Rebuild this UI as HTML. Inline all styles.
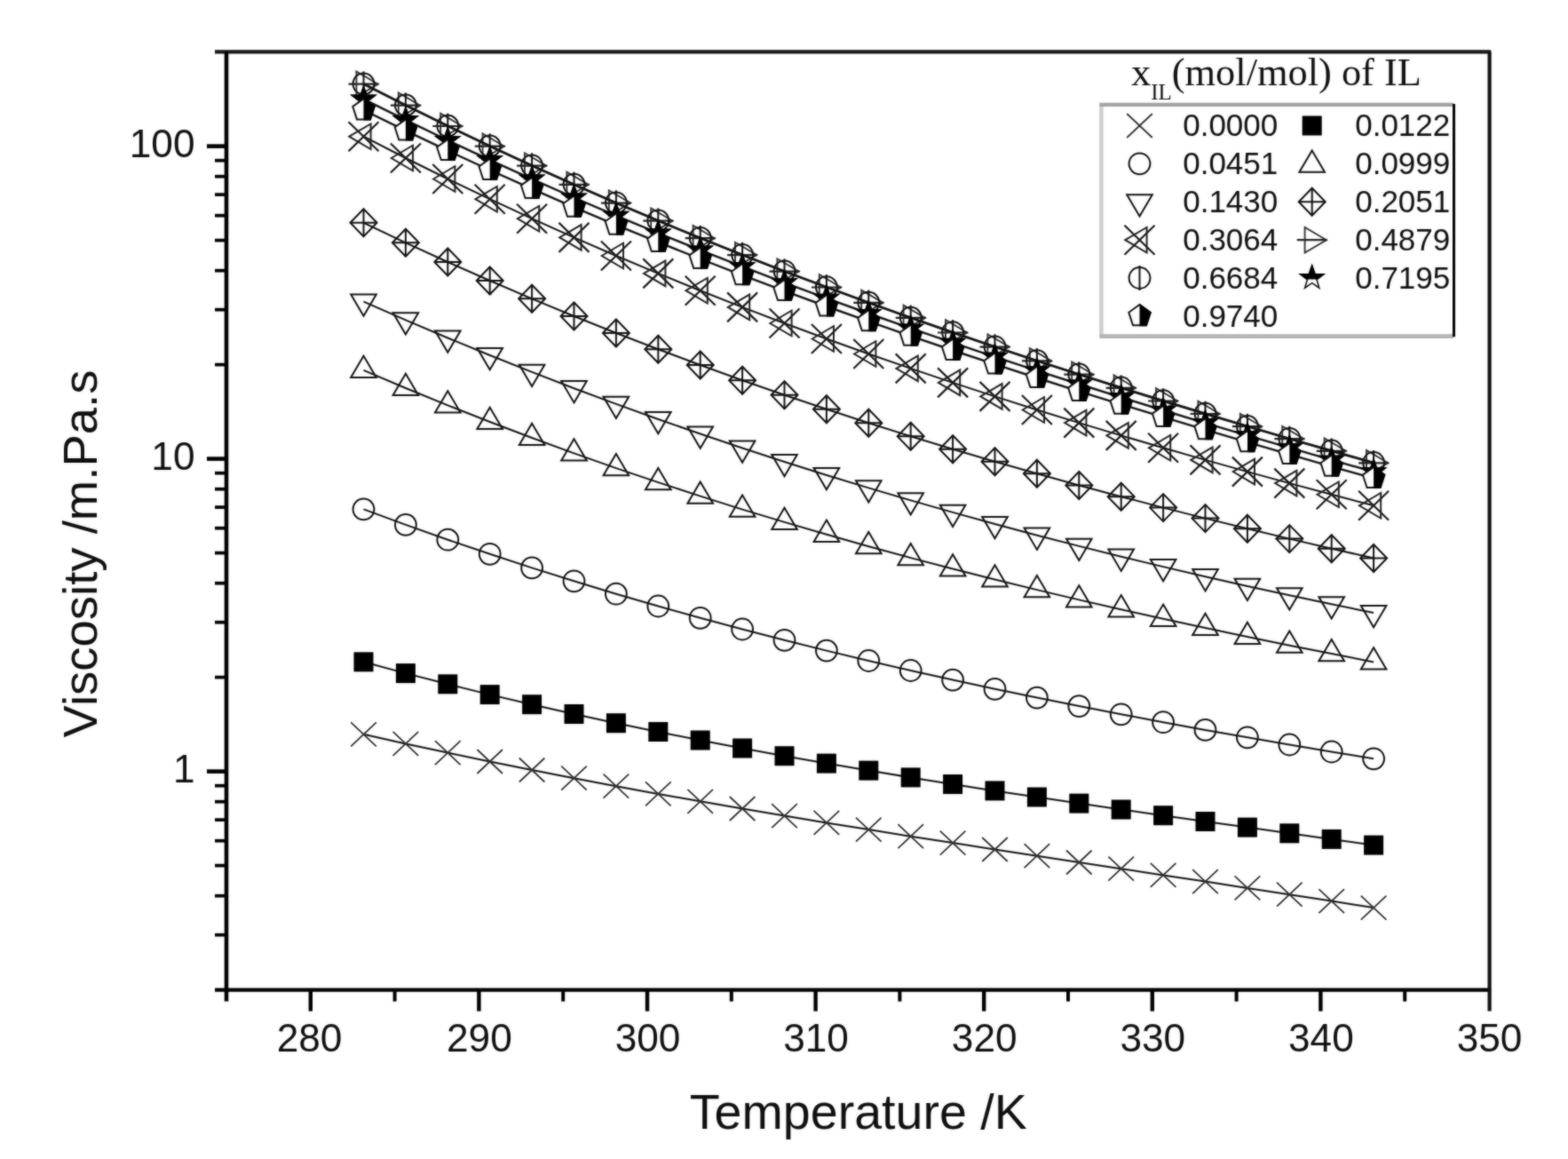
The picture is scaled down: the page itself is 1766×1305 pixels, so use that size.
<!DOCTYPE html>
<html><head><meta charset="utf-8"><title>Viscosity vs Temperature</title>
<style>
html,body{margin:0;padding:0;background:#fff;}
body{width:1766px;height:1305px;overflow:hidden;}
svg{display:block;}
text{font-family:"Liberation Sans",sans-serif;fill:#0e0e0e;}
text.ser{font-family:"Liberation Serif",serif;}
</style></head>
<body>
<svg width="1766" height="1305" viewBox="0 0 1766 1305">
<defs>
<g id="m-x"><path d="M-14.3 -13.5L14.3 13.5M-14.3 13.5L14.3 -13.5" stroke="#303030" stroke-width="1.8" fill="none"/></g>
<g id="m-sq"><rect x="-11" y="-11" width="22" height="22" fill="#000"/></g>
<g id="m-circ"><circle r="11.9" fill="none" stroke="#111" stroke-width="2.0"/></g>
<g id="m-up"><polygon points="0,-16.2 14.3,8.1 -14.3,8.1" fill="none" stroke="#111" stroke-width="2.0"/></g>
<g id="m-down"><polygon points="0,16.2 14.3,-8.1 -14.3,-8.1" fill="none" stroke="#111" stroke-width="2.0"/></g>
<g id="m-dia"><polygon points="0,-15.5 15,0 0,15.5 -15,0" fill="none" stroke="#111" stroke-width="2.0"/><path d="M-15 0H15M0 -15.5V15.5" stroke="#111" stroke-width="2.0" fill="none"/></g>
<g id="m-xtri"><polygon points="-16.2,0 8.1,-14.3 8.1,14.3" fill="none" stroke="#222" stroke-width="2"/><path d="M-17 -16.5L17 16.5M-17 16.5L17 -16.5" stroke="#1a1a1a" stroke-width="2.2" fill="none"/></g>
<g id="m-rt"><polygon points="16.2,0 -8.1,-14.3 -8.1,14.3" fill="none" stroke="#333" stroke-width="1.9"/><path d="M-17 0H17" stroke="#222" stroke-width="2.2" fill="none"/></g>
<g id="m-cv"><circle r="11.9" fill="none" stroke="#111" stroke-width="2.0"/><path d="M0 -14V14" stroke="#111" stroke-width="2.0" fill="none"/></g>
<clipPath id="cu"><rect x="-20" y="-20" width="40" height="21.5"/></clipPath>
<g id="m-star"><polygon points="0,-13.8 3.3,-4.5 13.1,-4.3 5.3,1.7 8.1,11.2 0,5.6 -8.1,11.2 -5.3,1.7 -13.1,-4.3 -3.3,-4.5" fill="#fff" stroke="#111" stroke-width="1.6"/><polygon points="0,-13.8 3.3,-4.5 13.1,-4.3 5.3,1.7 8.1,11.2 0,5.6 -8.1,11.2 -5.3,1.7 -13.1,-4.3 -3.3,-4.5" fill="#000" stroke="#000" stroke-width="1.6" clip-path="url(#cu)"/></g>
<clipPath id="cr"><rect x="0" y="-20" width="20" height="40"/></clipPath>
<g id="m-pent"><polygon points="0,-12.8 12.2,-4 7.5,10.4 -7.5,10.4 -12.2,-4" fill="#fff" stroke="#111" stroke-width="2.0"/><polygon points="0,-12.8 12.2,-4 7.5,10.4 -7.5,10.4 -12.2,-4" fill="#000" stroke="#000" stroke-width="2.0" clip-path="url(#cr)"/></g>
<filter id="soft" x="0" y="0" width="1766" height="1305" filterUnits="userSpaceOnUse" color-interpolation-filters="sRGB"><feGaussianBlur in="SourceGraphic" stdDeviation="1.0" result="b"/><feComposite in="SourceGraphic" in2="b" operator="arithmetic" k1="0" k2="0.45" k3="0.55" k4="0"/></filter>
</defs>
<g filter="url(#soft)">
<rect width="1766" height="1305" fill="#fff"/>
<g id="series">
<path d="M409.5 826.8L456.9 837.4L504.3 847.6L551.7 857.5L599.1 867L646.5 876.2L693.9 885.2L741.3 893.9L788.7 902.3L836.1 910.5L883.5 918.6L930.9 926.4L978.3 934.1L1025.7 941.7L1073.1 949.1L1120.5 956.5L1167.9 963.7L1215.3 971L1262.7 978.2L1310.1 985.4L1357.5 992.6L1404.9 999.9L1452.3 1007.2L1499.7 1014.6L1547.1 1022.1" fill="none" stroke="#111" stroke-width="2.0"/>
<use href="#m-x" x="409.5" y="826.8"/><use href="#m-x" x="456.9" y="837.4"/><use href="#m-x" x="504.3" y="847.6"/><use href="#m-x" x="551.7" y="857.5"/><use href="#m-x" x="599.1" y="867"/><use href="#m-x" x="646.5" y="876.2"/><use href="#m-x" x="693.9" y="885.2"/><use href="#m-x" x="741.3" y="893.9"/><use href="#m-x" x="788.7" y="902.3"/><use href="#m-x" x="836.1" y="910.5"/><use href="#m-x" x="883.5" y="918.6"/><use href="#m-x" x="930.9" y="926.4"/><use href="#m-x" x="978.3" y="934.1"/><use href="#m-x" x="1025.7" y="941.7"/><use href="#m-x" x="1073.1" y="949.1"/><use href="#m-x" x="1120.5" y="956.5"/><use href="#m-x" x="1167.9" y="963.7"/><use href="#m-x" x="1215.3" y="971"/><use href="#m-x" x="1262.7" y="978.2"/><use href="#m-x" x="1310.1" y="985.4"/><use href="#m-x" x="1357.5" y="992.6"/><use href="#m-x" x="1404.9" y="999.9"/><use href="#m-x" x="1452.3" y="1007.2"/><use href="#m-x" x="1499.7" y="1014.6"/><use href="#m-x" x="1547.1" y="1022.1"/>
<path d="M409.5 745.3L456.9 758.1L504.3 770.3L551.7 782.1L599.1 793.2L646.5 804L693.9 814.2L741.3 824L788.7 833.5L836.1 842.5L883.5 851.2L930.9 859.6L978.3 867.6L1025.7 875.4L1073.1 883L1120.5 890.4L1167.9 897.5L1215.3 904.6L1262.7 911.5L1310.1 918.2L1357.5 925L1404.9 931.6L1452.3 938.3L1499.7 944.9L1547.1 951.6" fill="none" stroke="#111" stroke-width="2.0"/>
<use href="#m-sq" x="409.5" y="745.3"/><use href="#m-sq" x="456.9" y="758.1"/><use href="#m-sq" x="504.3" y="770.3"/><use href="#m-sq" x="551.7" y="782.1"/><use href="#m-sq" x="599.1" y="793.2"/><use href="#m-sq" x="646.5" y="804"/><use href="#m-sq" x="693.9" y="814.2"/><use href="#m-sq" x="741.3" y="824"/><use href="#m-sq" x="788.7" y="833.5"/><use href="#m-sq" x="836.1" y="842.5"/><use href="#m-sq" x="883.5" y="851.2"/><use href="#m-sq" x="930.9" y="859.6"/><use href="#m-sq" x="978.3" y="867.6"/><use href="#m-sq" x="1025.7" y="875.4"/><use href="#m-sq" x="1073.1" y="883"/><use href="#m-sq" x="1120.5" y="890.4"/><use href="#m-sq" x="1167.9" y="897.5"/><use href="#m-sq" x="1215.3" y="904.6"/><use href="#m-sq" x="1262.7" y="911.5"/><use href="#m-sq" x="1310.1" y="918.2"/><use href="#m-sq" x="1357.5" y="925"/><use href="#m-sq" x="1404.9" y="931.6"/><use href="#m-sq" x="1452.3" y="938.3"/><use href="#m-sq" x="1499.7" y="944.9"/><use href="#m-sq" x="1547.1" y="951.6"/>
<path d="M409.5 573.4L456.9 590.9L504.3 607.7L551.7 623.8L599.1 639.4L646.5 654.3L693.9 668.7L741.3 682.5L788.7 695.8L836.1 708.5L883.5 720.8L930.9 732.6L978.3 744L1025.7 755L1073.1 765.6L1120.5 775.8L1167.9 785.6L1215.3 795.1L1262.7 804.3L1310.1 813.2L1357.5 821.9L1404.9 830.3L1452.3 838.5L1499.7 846.5L1547.1 854.3" fill="none" stroke="#111" stroke-width="2.0"/>
<use href="#m-circ" x="409.5" y="573.4"/><use href="#m-circ" x="456.9" y="590.9"/><use href="#m-circ" x="504.3" y="607.7"/><use href="#m-circ" x="551.7" y="623.8"/><use href="#m-circ" x="599.1" y="639.4"/><use href="#m-circ" x="646.5" y="654.3"/><use href="#m-circ" x="693.9" y="668.7"/><use href="#m-circ" x="741.3" y="682.5"/><use href="#m-circ" x="788.7" y="695.8"/><use href="#m-circ" x="836.1" y="708.5"/><use href="#m-circ" x="883.5" y="720.8"/><use href="#m-circ" x="930.9" y="732.6"/><use href="#m-circ" x="978.3" y="744"/><use href="#m-circ" x="1025.7" y="755"/><use href="#m-circ" x="1073.1" y="765.6"/><use href="#m-circ" x="1120.5" y="775.8"/><use href="#m-circ" x="1167.9" y="785.6"/><use href="#m-circ" x="1215.3" y="795.1"/><use href="#m-circ" x="1262.7" y="804.3"/><use href="#m-circ" x="1310.1" y="813.2"/><use href="#m-circ" x="1357.5" y="821.9"/><use href="#m-circ" x="1404.9" y="830.3"/><use href="#m-circ" x="1452.3" y="838.5"/><use href="#m-circ" x="1499.7" y="846.5"/><use href="#m-circ" x="1547.1" y="854.3"/>
<path d="M409.5 416.9L456.9 437L504.3 456.4L551.7 475L599.1 493L646.5 510.4L693.9 527.1L741.3 543.1L788.7 558.6L836.1 573.6L883.5 587.9L930.9 601.8L978.3 615.2L1025.7 628.1L1073.1 640.5L1120.5 652.5L1167.9 664.1L1215.3 675.4L1262.7 686.3L1310.1 696.8L1357.5 707L1404.9 717L1452.3 726.7L1499.7 736.1L1547.1 745.4" fill="none" stroke="#111" stroke-width="2.0"/>
<use href="#m-up" x="409.5" y="416.9"/><use href="#m-up" x="456.9" y="437"/><use href="#m-up" x="504.3" y="456.4"/><use href="#m-up" x="551.7" y="475"/><use href="#m-up" x="599.1" y="493"/><use href="#m-up" x="646.5" y="510.4"/><use href="#m-up" x="693.9" y="527.1"/><use href="#m-up" x="741.3" y="543.1"/><use href="#m-up" x="788.7" y="558.6"/><use href="#m-up" x="836.1" y="573.6"/><use href="#m-up" x="883.5" y="587.9"/><use href="#m-up" x="930.9" y="601.8"/><use href="#m-up" x="978.3" y="615.2"/><use href="#m-up" x="1025.7" y="628.1"/><use href="#m-up" x="1073.1" y="640.5"/><use href="#m-up" x="1120.5" y="652.5"/><use href="#m-up" x="1167.9" y="664.1"/><use href="#m-up" x="1215.3" y="675.4"/><use href="#m-up" x="1262.7" y="686.3"/><use href="#m-up" x="1310.1" y="696.8"/><use href="#m-up" x="1357.5" y="707"/><use href="#m-up" x="1404.9" y="717"/><use href="#m-up" x="1452.3" y="726.7"/><use href="#m-up" x="1499.7" y="736.1"/><use href="#m-up" x="1547.1" y="745.4"/>
<path d="M409.5 339.6L456.9 360.4L504.3 380.5L551.7 400L599.1 418.9L646.5 437.2L693.9 454.9L741.3 472L788.7 488.5L836.1 504.5L883.5 520L930.9 535L978.3 549.4L1025.7 563.4L1073.1 576.9L1120.5 590L1167.9 602.7L1215.3 614.9L1262.7 626.7L1310.1 638.1L1357.5 649.2L1404.9 659.9L1452.3 670.3L1499.7 680.3L1547.1 690" fill="none" stroke="#111" stroke-width="2.0"/>
<use href="#m-down" x="409.5" y="339.6"/><use href="#m-down" x="456.9" y="360.4"/><use href="#m-down" x="504.3" y="380.5"/><use href="#m-down" x="551.7" y="400"/><use href="#m-down" x="599.1" y="418.9"/><use href="#m-down" x="646.5" y="437.2"/><use href="#m-down" x="693.9" y="454.9"/><use href="#m-down" x="741.3" y="472"/><use href="#m-down" x="788.7" y="488.5"/><use href="#m-down" x="836.1" y="504.5"/><use href="#m-down" x="883.5" y="520"/><use href="#m-down" x="930.9" y="535"/><use href="#m-down" x="978.3" y="549.4"/><use href="#m-down" x="1025.7" y="563.4"/><use href="#m-down" x="1073.1" y="576.9"/><use href="#m-down" x="1120.5" y="590"/><use href="#m-down" x="1167.9" y="602.7"/><use href="#m-down" x="1215.3" y="614.9"/><use href="#m-down" x="1262.7" y="626.7"/><use href="#m-down" x="1310.1" y="638.1"/><use href="#m-down" x="1357.5" y="649.2"/><use href="#m-down" x="1404.9" y="659.9"/><use href="#m-down" x="1452.3" y="670.3"/><use href="#m-down" x="1499.7" y="680.3"/><use href="#m-down" x="1547.1" y="690"/>
<path d="M409.5 250.8L456.9 273.3L504.3 295L551.7 316L599.1 336.3L646.5 356L693.9 375L741.3 393.3L788.7 411L836.1 428.2L883.5 444.7L930.9 460.8L978.3 476.2L1025.7 491.2L1073.1 505.7L1120.5 519.7L1167.9 533.3L1215.3 546.5L1262.7 559.2L1310.1 571.6L1357.5 583.6L1404.9 595.3L1452.3 606.6L1499.7 617.7L1547.1 628.5" fill="none" stroke="#111" stroke-width="2.0"/>
<use href="#m-dia" x="409.5" y="250.8"/><use href="#m-dia" x="456.9" y="273.3"/><use href="#m-dia" x="504.3" y="295"/><use href="#m-dia" x="551.7" y="316"/><use href="#m-dia" x="599.1" y="336.3"/><use href="#m-dia" x="646.5" y="356"/><use href="#m-dia" x="693.9" y="375"/><use href="#m-dia" x="741.3" y="393.3"/><use href="#m-dia" x="788.7" y="411"/><use href="#m-dia" x="836.1" y="428.2"/><use href="#m-dia" x="883.5" y="444.7"/><use href="#m-dia" x="930.9" y="460.8"/><use href="#m-dia" x="978.3" y="476.2"/><use href="#m-dia" x="1025.7" y="491.2"/><use href="#m-dia" x="1073.1" y="505.7"/><use href="#m-dia" x="1120.5" y="519.7"/><use href="#m-dia" x="1167.9" y="533.3"/><use href="#m-dia" x="1215.3" y="546.5"/><use href="#m-dia" x="1262.7" y="559.2"/><use href="#m-dia" x="1310.1" y="571.6"/><use href="#m-dia" x="1357.5" y="583.6"/><use href="#m-dia" x="1404.9" y="595.3"/><use href="#m-dia" x="1452.3" y="606.6"/><use href="#m-dia" x="1499.7" y="617.7"/><use href="#m-dia" x="1547.1" y="628.5"/>
<path d="M409.5 153.7L456.9 178L504.3 201.5L551.7 224.2L599.1 246.2L646.5 267.4L693.9 288L741.3 307.9L788.7 327.2L836.1 345.9L883.5 364L930.9 381.5L978.3 398.5L1025.7 414.9L1073.1 430.9L1120.5 446.4L1167.9 461.5L1215.3 476.1L1262.7 490.4L1310.1 504.3L1357.5 517.9L1404.9 531.1L1452.3 544.1L1499.7 556.8L1547.1 569.3" fill="none" stroke="#111" stroke-width="2.0"/>
<use href="#m-xtri" x="409.5" y="153.7"/><use href="#m-xtri" x="456.9" y="178"/><use href="#m-xtri" x="504.3" y="201.5"/><use href="#m-xtri" x="551.7" y="224.2"/><use href="#m-xtri" x="599.1" y="246.2"/><use href="#m-xtri" x="646.5" y="267.4"/><use href="#m-xtri" x="693.9" y="288"/><use href="#m-xtri" x="741.3" y="307.9"/><use href="#m-xtri" x="788.7" y="327.2"/><use href="#m-xtri" x="836.1" y="345.9"/><use href="#m-xtri" x="883.5" y="364"/><use href="#m-xtri" x="930.9" y="381.5"/><use href="#m-xtri" x="978.3" y="398.5"/><use href="#m-xtri" x="1025.7" y="414.9"/><use href="#m-xtri" x="1073.1" y="430.9"/><use href="#m-xtri" x="1120.5" y="446.4"/><use href="#m-xtri" x="1167.9" y="461.5"/><use href="#m-xtri" x="1215.3" y="476.1"/><use href="#m-xtri" x="1262.7" y="490.4"/><use href="#m-xtri" x="1310.1" y="504.3"/><use href="#m-xtri" x="1357.5" y="517.9"/><use href="#m-xtri" x="1404.9" y="531.1"/><use href="#m-xtri" x="1452.3" y="544.1"/><use href="#m-xtri" x="1499.7" y="556.8"/><use href="#m-xtri" x="1547.1" y="569.3"/>
<path d="M409.5 94.7L456.9 118.7L504.3 142L551.7 164.7L599.1 186.6L646.5 207.9L693.9 228.6L741.3 248.7L788.7 268.2L836.1 287.1L883.5 305.6L930.9 323.5L978.3 340.9L1025.7 357.9L1073.1 374.5L1120.5 390.6L1167.9 406.4L1215.3 421.7L1262.7 436.8L1310.1 451.5L1357.5 466L1404.9 480.2L1452.3 494.1L1499.7 507.8L1547.1 521.3" fill="none" stroke="#111" stroke-width="2.4"/>
<use href="#m-rt" x="409.5" y="94.7"/><use href="#m-rt" x="456.9" y="118.7"/><use href="#m-rt" x="504.3" y="142"/><use href="#m-rt" x="551.7" y="164.7"/><use href="#m-rt" x="599.1" y="186.6"/><use href="#m-rt" x="646.5" y="207.9"/><use href="#m-rt" x="693.9" y="228.6"/><use href="#m-rt" x="741.3" y="248.7"/><use href="#m-rt" x="788.7" y="268.2"/><use href="#m-rt" x="836.1" y="287.1"/><use href="#m-rt" x="883.5" y="305.6"/><use href="#m-rt" x="930.9" y="323.5"/><use href="#m-rt" x="978.3" y="340.9"/><use href="#m-rt" x="1025.7" y="357.9"/><use href="#m-rt" x="1073.1" y="374.5"/><use href="#m-rt" x="1120.5" y="390.6"/><use href="#m-rt" x="1167.9" y="406.4"/><use href="#m-rt" x="1215.3" y="421.7"/><use href="#m-rt" x="1262.7" y="436.8"/><use href="#m-rt" x="1310.1" y="451.5"/><use href="#m-rt" x="1357.5" y="466"/><use href="#m-rt" x="1404.9" y="480.2"/><use href="#m-rt" x="1452.3" y="494.1"/><use href="#m-rt" x="1499.7" y="507.8"/><use href="#m-rt" x="1547.1" y="521.3"/>
<path d="M409.5 94.4L456.9 118.4L504.3 141.7L551.7 164.4L599.1 186.3L646.5 207.6L693.9 228.3L741.3 248.4L788.7 267.9L836.1 286.8L883.5 305.3L930.9 323.2L978.3 340.6L1025.7 357.6L1073.1 374.2L1120.5 390.3L1167.9 406.1L1215.3 421.4L1262.7 436.5L1310.1 451.2L1357.5 465.7L1404.9 479.9L1452.3 493.8L1499.7 507.5L1547.1 521" fill="none" stroke="#111" stroke-width="2.4"/>
<use href="#m-cv" x="409.5" y="94.4"/><use href="#m-cv" x="456.9" y="118.4"/><use href="#m-cv" x="504.3" y="141.7"/><use href="#m-cv" x="551.7" y="164.4"/><use href="#m-cv" x="599.1" y="186.3"/><use href="#m-cv" x="646.5" y="207.6"/><use href="#m-cv" x="693.9" y="228.3"/><use href="#m-cv" x="741.3" y="248.4"/><use href="#m-cv" x="788.7" y="267.9"/><use href="#m-cv" x="836.1" y="286.8"/><use href="#m-cv" x="883.5" y="305.3"/><use href="#m-cv" x="930.9" y="323.2"/><use href="#m-cv" x="978.3" y="340.6"/><use href="#m-cv" x="1025.7" y="357.6"/><use href="#m-cv" x="1073.1" y="374.2"/><use href="#m-cv" x="1120.5" y="390.3"/><use href="#m-cv" x="1167.9" y="406.1"/><use href="#m-cv" x="1215.3" y="421.4"/><use href="#m-cv" x="1262.7" y="436.5"/><use href="#m-cv" x="1310.1" y="451.2"/><use href="#m-cv" x="1357.5" y="465.7"/><use href="#m-cv" x="1404.9" y="479.9"/><use href="#m-cv" x="1452.3" y="493.8"/><use href="#m-cv" x="1499.7" y="507.5"/><use href="#m-cv" x="1547.1" y="521"/>
<path d="M409.5 111.6L456.9 135.1L504.3 158L551.7 180.1L599.1 201.6L646.5 222.5L693.9 242.8L741.3 262.5L788.7 281.6L836.1 300.2L883.5 318.3L930.9 335.8L978.3 353L1025.7 369.7L1073.1 385.9L1120.5 401.8L1167.9 417.3L1215.3 432.5L1262.7 447.4L1310.1 462L1357.5 476.3L1404.9 490.3L1452.3 504.2L1499.7 517.8L1547.1 531.3" fill="none" stroke="#111" stroke-width="2.4"/>
<use href="#m-star" x="409.5" y="111.6"/><use href="#m-star" x="456.9" y="135.1"/><use href="#m-star" x="504.3" y="158"/><use href="#m-star" x="551.7" y="180.1"/><use href="#m-star" x="599.1" y="201.6"/><use href="#m-star" x="646.5" y="222.5"/><use href="#m-star" x="693.9" y="242.8"/><use href="#m-star" x="741.3" y="262.5"/><use href="#m-star" x="788.7" y="281.6"/><use href="#m-star" x="836.1" y="300.2"/><use href="#m-star" x="883.5" y="318.3"/><use href="#m-star" x="930.9" y="335.8"/><use href="#m-star" x="978.3" y="353"/><use href="#m-star" x="1025.7" y="369.7"/><use href="#m-star" x="1073.1" y="385.9"/><use href="#m-star" x="1120.5" y="401.8"/><use href="#m-star" x="1167.9" y="417.3"/><use href="#m-star" x="1215.3" y="432.5"/><use href="#m-star" x="1262.7" y="447.4"/><use href="#m-star" x="1310.1" y="462"/><use href="#m-star" x="1357.5" y="476.3"/><use href="#m-star" x="1404.9" y="490.3"/><use href="#m-star" x="1452.3" y="504.2"/><use href="#m-star" x="1499.7" y="517.8"/><use href="#m-star" x="1547.1" y="531.3"/>
<path d="M409.5 124L456.9 147.2L504.3 169.7L551.7 191.5L599.1 212.7L646.5 233.3L693.9 253.3L741.3 272.7L788.7 291.5L836.1 309.8L883.5 327.7L930.9 345L978.3 361.9L1025.7 378.4L1073.1 394.5L1120.5 410.2L1167.9 425.5L1215.3 440.6L1262.7 455.3L1310.1 469.7L1357.5 483.9L1404.9 497.9L1452.3 511.7L1499.7 525.3L1547.1 538.7" fill="none" stroke="#111" stroke-width="2.4"/>
<use href="#m-pent" x="409.5" y="124"/><use href="#m-pent" x="456.9" y="147.2"/><use href="#m-pent" x="504.3" y="169.7"/><use href="#m-pent" x="551.7" y="191.5"/><use href="#m-pent" x="599.1" y="212.7"/><use href="#m-pent" x="646.5" y="233.3"/><use href="#m-pent" x="693.9" y="253.3"/><use href="#m-pent" x="741.3" y="272.7"/><use href="#m-pent" x="788.7" y="291.5"/><use href="#m-pent" x="836.1" y="309.8"/><use href="#m-pent" x="883.5" y="327.7"/><use href="#m-pent" x="930.9" y="345"/><use href="#m-pent" x="978.3" y="361.9"/><use href="#m-pent" x="1025.7" y="378.4"/><use href="#m-pent" x="1073.1" y="394.5"/><use href="#m-pent" x="1120.5" y="410.2"/><use href="#m-pent" x="1167.9" y="425.5"/><use href="#m-pent" x="1215.3" y="440.6"/><use href="#m-pent" x="1262.7" y="455.3"/><use href="#m-pent" x="1310.1" y="469.7"/><use href="#m-pent" x="1357.5" y="483.9"/><use href="#m-pent" x="1404.9" y="497.9"/><use href="#m-pent" x="1452.3" y="511.7"/><use href="#m-pent" x="1499.7" y="525.3"/><use href="#m-pent" x="1547.1" y="538.7"/>
</g>
<g id="axes">
<path d="M242.0 58.3H1679.2" stroke="#161616" stroke-width="4.3" fill="none"/>
<path d="M242.0 1114.6H1679.2" stroke="#000" stroke-width="4.2" fill="none"/>
<path d="M255.0 58.0V1127.6" stroke="#000" stroke-width="4.6" fill="none"/>
<path d="M1677.6 58.0V1138.6" stroke="#111" stroke-width="4.2" fill="none"/>
<path d="M242.0 1052.7H255.0" stroke="#000" stroke-width="3.7"/>
<path d="M242.0 1008.7H255.0" stroke="#000" stroke-width="3.7"/>
<path d="M242.0 974.6H255.0" stroke="#000" stroke-width="3.7"/>
<path d="M242.0 946.7H255.0" stroke="#000" stroke-width="3.7"/>
<path d="M242.0 923.1H255.0" stroke="#000" stroke-width="3.7"/>
<path d="M242.0 902.7H255.0" stroke="#000" stroke-width="3.7"/>
<path d="M242.0 884.7H255.0" stroke="#000" stroke-width="3.7"/>
<path d="M233.0 868.6H255.0" stroke="#000" stroke-width="4.6"/>
<path d="M242.0 762.6H255.0" stroke="#000" stroke-width="3.7"/>
<path d="M242.0 700.7H255.0" stroke="#000" stroke-width="3.7"/>
<path d="M242.0 656.7H255.0" stroke="#000" stroke-width="3.7"/>
<path d="M242.0 622.6H255.0" stroke="#000" stroke-width="3.7"/>
<path d="M242.0 594.7H255.0" stroke="#000" stroke-width="3.7"/>
<path d="M242.0 571.1H255.0" stroke="#000" stroke-width="3.7"/>
<path d="M242.0 550.7H255.0" stroke="#000" stroke-width="3.7"/>
<path d="M242.0 532.7H255.0" stroke="#000" stroke-width="3.7"/>
<path d="M233.0 516.6H255.0" stroke="#000" stroke-width="4.6"/>
<path d="M242.0 410.6H255.0" stroke="#000" stroke-width="3.7"/>
<path d="M242.0 348.7H255.0" stroke="#000" stroke-width="3.7"/>
<path d="M242.0 304.7H255.0" stroke="#000" stroke-width="3.7"/>
<path d="M242.0 270.6H255.0" stroke="#000" stroke-width="3.7"/>
<path d="M242.0 242.7H255.0" stroke="#000" stroke-width="3.7"/>
<path d="M242.0 219.1H255.0" stroke="#000" stroke-width="3.7"/>
<path d="M242.0 198.7H255.0" stroke="#000" stroke-width="3.7"/>
<path d="M242.0 180.7H255.0" stroke="#000" stroke-width="3.7"/>
<path d="M233.0 164.6H255.0" stroke="#000" stroke-width="4.6"/>
<path d="M349.8 1114.6V1138.6" stroke="#000" stroke-width="4.4"/>
<path d="M444.6 1114.6V1127.6" stroke="#000" stroke-width="4"/>
<path d="M539.4 1114.6V1138.6" stroke="#000" stroke-width="4.4"/>
<path d="M634.2 1114.6V1127.6" stroke="#000" stroke-width="4"/>
<path d="M729 1114.6V1138.6" stroke="#000" stroke-width="4.4"/>
<path d="M823.8 1114.6V1127.6" stroke="#000" stroke-width="4"/>
<path d="M918.6 1114.6V1138.6" stroke="#000" stroke-width="4.4"/>
<path d="M1013.4 1114.6V1127.6" stroke="#000" stroke-width="4"/>
<path d="M1108.2 1114.6V1138.6" stroke="#000" stroke-width="4.4"/>
<path d="M1203 1114.6V1127.6" stroke="#000" stroke-width="4"/>
<path d="M1297.8 1114.6V1138.6" stroke="#000" stroke-width="4.4"/>
<path d="M1392.6 1114.6V1127.6" stroke="#000" stroke-width="4"/>
<path d="M1487.4 1114.6V1138.6" stroke="#000" stroke-width="4.4"/>
<path d="M1582.2 1114.6V1127.6" stroke="#000" stroke-width="4"/>
</g>
<g id="legend">
<rect x="1240.5" y="117.5" width="397.0" height="260.0" fill="#fff" stroke="none"/>
<path d="M1240.4 380V116" fill="none" stroke="#cfcfcf" stroke-width="4.6"/>
<path d="M1238.5 117.8H1637" fill="none" stroke="#a2a2a2" stroke-width="4.2"/>
<path d="M1238.5 378.6H1637" fill="none" stroke="#b4b4b4" stroke-width="4.6"/>
<path d="M1637.5 117V379.3" fill="none" stroke="#000" stroke-width="3"/>
<text x="1274" y="95.5" class="ser" font-size="44.4">x<tspan font-size="25" dy="16.5">IL</tspan><tspan dy="-16.5">(mol/mol) of IL</tspan></text>
<use href="#m-x" x="1283.5" y="141.5"/>
<text x="1332.2" y="153.3" font-size="35">0.0000</text>
<use href="#m-sq" x="1477.7" y="141.5"/>
<text x="1526.2" y="153.3" font-size="35">0.0122</text>
<use href="#m-circ" x="1283.5" y="184.3"/>
<text x="1332.2" y="196.1" font-size="35">0.0451</text>
<use href="#m-up" x="1477.7" y="185.7"/>
<text x="1526.2" y="196.1" font-size="35">0.0999</text>
<use href="#m-down" x="1283.5" y="227.4"/>
<text x="1332.2" y="239" font-size="35">0.1430</text>
<use href="#m-dia" x="1477.7" y="227.2"/>
<text x="1526.2" y="239" font-size="35">0.2051</text>
<use href="#m-xtri" x="1283.5" y="270.2"/>
<text x="1332.2" y="282" font-size="35">0.3064</text>
<use href="#m-rt" x="1477.7" y="270.2"/>
<text x="1526.2" y="282" font-size="35">0.4879</text>
<use href="#m-cv" x="1283.5" y="313"/>
<text x="1332.2" y="324.8" font-size="35">0.6684</text>
<use href="#m-star" x="1477.7" y="313"/>
<text x="1526.2" y="324.8" font-size="35">0.7195</text>
<use href="#m-pent" x="1283.5" y="355.8"/>
<text x="1332.2" y="367.6" font-size="35">0.9740</text>
</g>
<g id="labels">
<text x="348.6" y="1184.3" text-anchor="middle" font-size="44.2">280</text>
<text x="539.9" y="1184.3" text-anchor="middle" font-size="44.2">290</text>
<text x="729.5" y="1184.3" text-anchor="middle" font-size="44.2">300</text>
<text x="919.1" y="1184.3" text-anchor="middle" font-size="44.2">310</text>
<text x="1108.7" y="1184.3" text-anchor="middle" font-size="44.2">320</text>
<text x="1298.3" y="1184.3" text-anchor="middle" font-size="44.2">330</text>
<text x="1487.9" y="1184.3" text-anchor="middle" font-size="44.2">340</text>
<text x="1677.5" y="1184.3" text-anchor="middle" font-size="44.2">350</text>
<text x="219.5" y="177.1" text-anchor="end" font-size="44.2">100</text>
<text x="219.5" y="529.1" text-anchor="end" font-size="44.2">10</text>
<text x="219.5" y="881.1" text-anchor="end" font-size="44.2">1</text>
<text x="966.8" y="1271" text-anchor="middle" font-size="55.6">Temperature /K</text>
<text transform="translate(108.5 623.5) rotate(-90)" text-anchor="middle" font-size="54.5">Viscosity /m.Pa.s</text>
</g>
</g>
</svg>
</body></html>
